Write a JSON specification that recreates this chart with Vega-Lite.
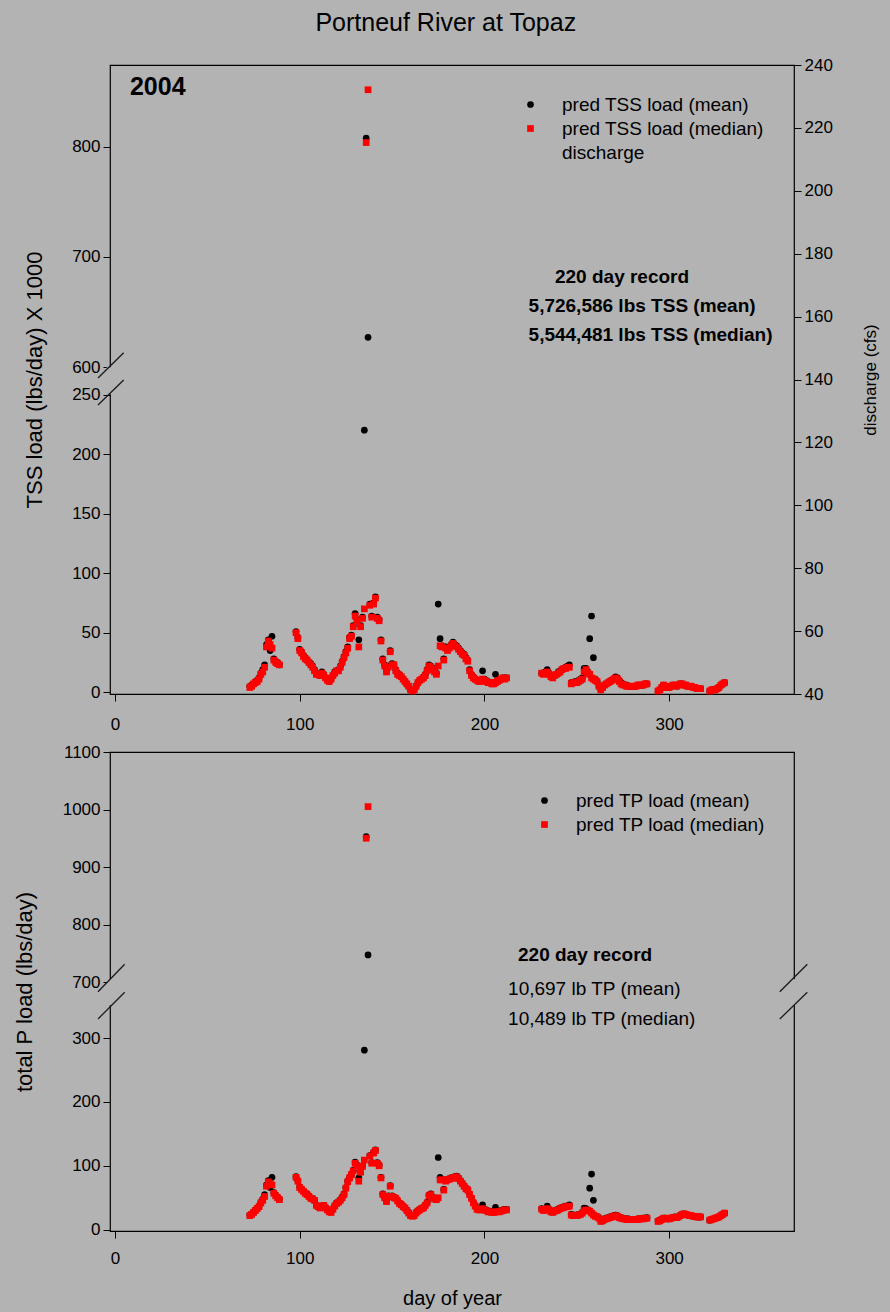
{
"$schema": "https://vega.github.io/schema/vega-lite/v6.json",
"background": "#b3b3b3",
"padding": {"left": 12, "top": 11, "right": 14, "bottom": 10},
"title": {"text": "Portneuf River at Topaz", "fontSize": 25, "font": "Liberation Sans", "fontWeight": "normal", "color": "black", "anchor": "middle", "offset": 19},
"config": {
  "font": "Liberation Sans",
  "view": {"fill": "#b3b3b3", "stroke": "black", "strokeWidth": 1.2},
  "axis": {"domain": false, "grid": false, "tickColor": "black", "tickSize": 7, "labelColor": "black", "labelFontSize": 17, "labelFont": "Liberation Sans", "titleFont": "Liberation Sans", "titleFontWeight": "normal", "titleColor": "black", "titleFontSize": 22, "labelPadding": 3, "labelFlush": false, "format": "d"},
  "axisX": {"labelPadding": 15},
  "legend": {"labelFontSize": 19, "labelFont": "Liberation Sans", "labelColor": "black", "labelOffset": 22, "rowPadding": 4, "symbolSize": 45, "symbolStrokeWidth": 0, "padding": 0, "labelLimit": 400}
},
"datasets": {"main": [
{"d":73,"tn":4,"tm":5,"pn":22,"pm":23},{"d":74,"tn":5,"tm":6,"pn":24,"pm":25},{"d":75,"tn":7,"tm":7,"pn":27,"pm":28},{"d":76,"tn":8,"tm":9,"pn":30,"pm":31},{"d":77,"tn":9,"tm":10,"pn":33,"pm":34},{"d":78,"tn":11,"tm":12,"pn":36,"pm":37},{"d":79,"tn":15,"tm":16,"pn":42,"pm":43},{"d":80,"tn":17,"tm":19,"pn":46,"pm":48},{"d":81,"tn":21,"tm":23,"pn":52,"pm":55},{"d":82,"tn":38,"tm":40,"pn":68,"pm":70},{"d":83,"tn":43,"tm":44,"pn":75,"pm":77},{"d":84,"tn":40,"tm":35,"pn":72,"pm":66},{"d":85,"tn":37,"tm":47,"pn":70,"pm":82},{"d":86,"tn":27,"tm":28,"pn":57,"pm":58},{"d":87,"tn":25,"tm":26,"pn":53,"pm":54},{"d":88,"tn":24,"tm":25,"pn":50,"pm":51},{"d":89,"tn":23,"tm":23,"pn":47,"pm":48},
{"d":98,"tn":50,"tm":51,"pn":82,"pm":83},{"d":99,"tn":45,"tm":46,"pn":76,"pm":77},{"d":100,"tn":35,"tm":36,"pn":66,"pm":67},{"d":101,"tn":33,"tm":34,"pn":63,"pm":64},{"d":102,"tn":30,"tm":31,"pn":60,"pm":61},{"d":103,"tn":28,"tm":29,"pn":57,"pm":58},{"d":104,"tn":27,"tm":27,"pn":55,"pm":56},{"d":105,"tn":25,"tm":25,"pn":52,"pm":53},{"d":106,"tn":23,"tm":24,"pn":49,"pm":50},{"d":107,"tn":21,"tm":22,"pn":48,"pm":49},{"d":108,"tn":18,"tm":19,"pn":46,"pm":46},{"d":109,"tn":15,"tm":16,"pn":38,"pm":39},{"d":110,"tn":15,"tm":15,"pn":36,"pm":37},{"d":111,"tn":14,"tm":14,"pn":34,"pm":35},{"d":112,"tn":16,"tm":17,"pn":36,"pm":37},{"d":113,"tn":14,"tm":15,"pn":38,"pm":38},{"d":114,"tn":12,"tm":12,"pn":34,"pm":35},{"d":115,"tn":10,"tm":11,"pn":31,"pm":32},{"d":116,"tn":9,"tm":9,"pn":28,"pm":29},{"d":117,"tn":11,"tm":11,"pn":27,"pm":28},{"d":118,"tn":14,"tm":14,"pn":32,"pm":33},{"d":119,"tn":16,"tm":17,"pn":37,"pm":38},{"d":120,"tn":18,"tm":18,"pn":41,"pm":42},{"d":121,"tn":18,"tm":19,"pn":43,"pm":44},{"d":122,"tn":21,"tm":22,"pn":46,"pm":47},{"d":123,"tn":25,"tm":26,"pn":50,"pm":51},{"d":124,"tn":29,"tm":30,"pn":55,"pm":56},{"d":125,"tn":33,"tm":34,"pn":65,"pm":66},{"d":126,"tn":37,"tm":38,"pn":75,"pm":76},{"d":127,"tn":45,"tm":46,"pn":81,"pm":82},{"d":128,"tn":47,"tm":48,"pn":86,"pm":87},{"d":129,"tn":55,"tm":56,"pn":92,"pm":93},{"d":130,"tn":64,"tm":66,"pn":104,"pm":106},{"d":131,"tn":60,"tm":61,"pn":100,"pm":101},{"d":132,"tn":38,"tm":44,"pn":76,"pm":81},{"d":133,"tn":55,"tm":56,"pn":90,"pm":91},{"d":134,"tn":62,"tm":63,"pn":99,"pm":100},{"d":135,"tn":70,"tm":220,"pn":109,"pm":281},{"d":136,"tn":804,"tm":808,"pn":950,"pm":953},{"d":137,"tn":852,"tm":627,"pn":1005,"pm":747},{"d":138,"tn":73,"tm":74,"pn":115,"pm":116},{"d":139,"tn":63,"tm":64,"pn":104,"pm":105},{"d":140,"tn":74,"tm":75,"pn":120,"pm":121},{"d":141,"tn":79,"tm":80,"pn":124,"pm":125},{"d":142,"tn":62,"tm":63,"pn":104,"pm":105},{"d":143,"tn":60,"tm":61,"pn":100,"pm":101},{"d":144,"tn":43,"tm":44,"pn":81,"pm":82},{"d":145,"tn":27,"tm":28,"pn":55,"pm":56},{"d":146,"tn":22,"tm":23,"pn":50,"pm":51},{"d":147,"tn":17,"tm":18,"pn":44,"pm":45},{"d":148,"tn":21,"tm":22,"pn":52,"pm":53},{"d":149,"tn":34,"tm":35,"pn":68,"pm":69},{"d":150,"tn":23,"tm":24,"pn":52,"pm":53},{"d":151,"tn":23,"tm":23,"pn":50,"pm":51},{"d":152,"tn":18,"tm":19,"pn":49,"pm":50},{"d":153,"tn":15,"tm":16,"pn":45,"pm":46},{"d":154,"tn":14,"tm":15,"pn":41,"pm":42},{"d":155,"tn":13,"tm":13,"pn":39,"pm":40},{"d":156,"tn":11,"tm":11,"pn":36,"pm":37},{"d":157,"tn":9,"tm":9,"pn":34,"pm":34},{"d":158,"tn":7,"tm":7,"pn":30,"pm":31},{"d":159,"tn":5,"tm":5,"pn":26,"pm":27},{"d":160,"tn":2,"tm":2,"pn":22,"pm":23},{"d":161,"tn":1,"tm":1,"pn":21,"pm":22},{"d":162,"tn":2,"tm":2,"pn":22,"pm":23},{"d":163,"tn":5,"tm":5,"pn":26,"pm":27},{"d":164,"tn":8,"tm":8,"pn":29,"pm":30},{"d":165,"tn":10,"tm":10,"pn":31,"pm":32},{"d":166,"tn":11,"tm":11,"pn":33,"pm":34},{"d":167,"tn":12,"tm":13,"pn":34,"pm":35},{"d":168,"tn":14,"tm":15,"pn":38,"pm":39},{"d":169,"tn":18,"tm":19,"pn":42,"pm":43},{"d":170,"tn":22,"tm":23,"pn":53,"pm":54},{"d":171,"tn":21,"tm":22,"pn":55,"pm":56},{"d":172,"tn":19,"tm":20,"pn":50,"pm":51},{"d":173,"tn":17,"tm":18,"pn":48,"pm":49},{"d":174,"tn":15,"tm":16,"pn":47,"pm":48},{"d":175,"tn":22,"tm":74,"pn":50,"pm":113},{"d":176,"tn":39,"tm":45,"pn":78,"pm":82},{"d":177,"tn":38,"tm":39,"pn":78,"pm":79},{"d":178,"tn":27,"tm":28,"pn":62,"pm":63},{"d":179,"tn":37,"tm":38,"pn":76,"pm":77},{"d":180,"tn":35,"tm":36,"pn":78,"pm":79},{"d":181,"tn":37,"tm":38,"pn":79,"pm":80},{"d":182,"tn":39,"tm":40,"pn":80,"pm":81},{"d":183,"tn":41,"tm":42,"pn":81,"pm":82},{"d":184,"tn":39,"tm":40,"pn":82,"pm":83},{"d":185,"tn":38,"tm":39,"pn":83,"pm":84},{"d":186,"tn":36,"tm":37,"pn":80,"pm":81},{"d":187,"tn":34,"tm":35,"pn":76,"pm":77},{"d":188,"tn":32,"tm":33,"pn":72,"pm":73},{"d":189,"tn":31,"tm":32,"pn":68,"pm":69},{"d":190,"tn":28,"tm":29,"pn":64,"pm":65},{"d":191,"tn":26,"tm":27,"pn":62,"pm":63},{"d":192,"tn":18,"tm":19,"pn":55,"pm":56},{"d":193,"tn":14,"tm":15,"pn":49,"pm":50},{"d":194,"tn":12,"tm":13,"pn":42,"pm":43},{"d":195,"tn":11,"tm":11,"pn":37,"pm":38},{"d":196,"tn":10,"tm":10,"pn":32,"pm":33},{"d":197,"tn":9,"tm":10,"pn":31,"pm":32},{"d":198,"tn":9,"tm":10,"pn":31,"pm":32},{"d":199,"tn":11,"tm":18,"pn":33,"pm":39},{"d":200,"tn":10,"tm":11,"pn":31,"pm":32},{"d":201,"tn":9,"tm":10,"pn":30,"pm":31},{"d":202,"tn":8,"tm":9,"pn":28,"pm":29},{"d":203,"tn":8,"tm":8,"pn":28,"pm":29},{"d":204,"tn":7,"tm":8,"pn":27,"pm":28},{"d":205,"tn":7,"tm":8,"pn":27,"pm":28},{"d":206,"tn":8,"tm":15,"pn":28,"pm":35},{"d":207,"tn":9,"tm":9,"pn":28,"pm":29},{"d":208,"tn":10,"tm":10,"pn":28,"pm":29},{"d":209,"tn":11,"tm":11,"pn":29,"pm":30},{"d":210,"tn":12,"tm":12,"pn":30,"pm":31},{"d":211,"tn":11,"tm":12,"pn":31,"pm":32},{"d":212,"tn":12,"tm":12,"pn":31,"pm":32},
{"d":231,"tn":16,"tm":16,"pn":32,"pm":33},{"d":232,"tn":15,"tm":16,"pn":30,"pm":31},{"d":233,"tn":16,"tm":17,"pn":31,"pm":32},{"d":234,"tn":17,"tm":19,"pn":33,"pm":37},{"d":235,"tn":15,"tm":16,"pn":31,"pm":32},{"d":236,"tn":13,"tm":14,"pn":28,"pm":29},{"d":237,"tn":12,"tm":13,"pn":27,"pm":28},{"d":238,"tn":14,"tm":14,"pn":29,"pm":30},{"d":239,"tn":15,"tm":15,"pn":30,"pm":31},{"d":240,"tn":16,"tm":17,"pn":31,"pm":32},{"d":241,"tn":17,"tm":18,"pn":33,"pm":34},{"d":242,"tn":19,"tm":19,"pn":34,"pm":35},{"d":243,"tn":20,"tm":20,"pn":35,"pm":36},{"d":244,"tn":20,"tm":21,"pn":36,"pm":37},{"d":245,"tn":21,"tm":22,"pn":36,"pm":37},{"d":246,"tn":21,"tm":23,"pn":37,"pm":39},{"d":247,"tn":7,"tm":8,"pn":23,"pm":24},{"d":248,"tn":8,"tm":8,"pn":22,"pm":23},{"d":249,"tn":8,"tm":9,"pn":22,"pm":23},{"d":250,"tn":8,"tm":9,"pn":22,"pm":23},{"d":251,"tn":9,"tm":10,"pn":23,"pm":24},{"d":252,"tn":10,"tm":11,"pn":24,"pm":25},{"d":253,"tn":11,"tm":12,"pn":26,"pm":27},{"d":254,"tn":17,"tm":20,"pn":30,"pm":34},{"d":255,"tn":19,"tm":20,"pn":31,"pm":33},{"d":256,"tn":16,"tm":17,"pn":30,"pm":31},{"d":257,"tn":15,"tm":45,"pn":29,"pm":65},{"d":258,"tn":12,"tm":64,"pn":26,"pm":87},{"d":259,"tn":11,"tm":29,"pn":23,"pm":46},{"d":260,"tn":10,"tm":11,"pn":21,"pm":22},{"d":261,"tn":9,"tm":9,"pn":20,"pm":21},{"d":262,"tn":5,"tm":5,"pn":18,"pm":19},{"d":263,"tn":2,"tm":2,"pn":13,"pm":14},{"d":264,"tn":4,"tm":4,"pn":14,"pm":15},{"d":265,"tn":6,"tm":6,"pn":16,"pm":17},{"d":266,"tn":7,"tm":7,"pn":17,"pm":18},{"d":267,"tn":8,"tm":8,"pn":18,"pm":19},{"d":268,"tn":9,"tm":9,"pn":19,"pm":20},{"d":269,"tn":10,"tm":10,"pn":20,"pm":21},{"d":270,"tn":11,"tm":11,"pn":21,"pm":22},{"d":271,"tn":12,"tm":13,"pn":22,"pm":23},{"d":272,"tn":11,"tm":12,"pn":21,"pm":22},{"d":273,"tn":9,"tm":10,"pn":19,"pm":20},{"d":274,"tn":7,"tm":8,"pn":18,"pm":19},{"d":275,"tn":6,"tm":7,"pn":17,"pm":18},{"d":276,"tn":6,"tm":6,"pn":17,"pm":17},{"d":277,"tn":5,"tm":6,"pn":16,"pm":17},{"d":278,"tn":5,"tm":5,"pn":16,"pm":17},{"d":279,"tn":5,"tm":5,"pn":16,"pm":16},{"d":280,"tn":5,"tm":5,"pn":16,"pm":16},{"d":281,"tn":5,"tm":5,"pn":16,"pm":16},{"d":282,"tn":5,"tm":5,"pn":16,"pm":16},{"d":283,"tn":6,"tm":6,"pn":16,"pm":17},{"d":284,"tn":6,"tm":6,"pn":17,"pm":17},{"d":285,"tn":6,"tm":6,"pn":17,"pm":17},{"d":286,"tn":6,"tm":6,"pn":17,"pm":18},{"d":287,"tn":7,"tm":7,"pn":18,"pm":18},{"d":288,"tn":7,"tm":7,"pn":18,"pm":19},
{"d":294,"tn":1,"tm":1,"pn":13,"pm":14},{"d":295,"tn":2,"tm":2,"pn":14,"pm":15},{"d":296,"tn":4,"tm":4,"pn":16,"pm":16},{"d":297,"tn":6,"tm":6,"pn":18,"pm":18},{"d":298,"tn":5,"tm":5,"pn":18,"pm":18},{"d":299,"tn":4,"tm":4,"pn":17,"pm":17},{"d":300,"tn":4,"tm":4,"pn":17,"pm":17},{"d":301,"tn":5,"tm":5,"pn":18,"pm":18},{"d":302,"tn":6,"tm":6,"pn":19,"pm":19},{"d":303,"tn":6,"tm":6,"pn":19,"pm":20},{"d":304,"tn":5,"tm":5,"pn":19,"pm":19},{"d":305,"tn":6,"tm":6,"pn":20,"pm":20},{"d":306,"tn":7,"tm":7,"pn":22,"pm":22},{"d":307,"tn":7,"tm":7,"pn":24,"pm":24},{"d":308,"tn":6,"tm":6,"pn":25,"pm":25},{"d":309,"tn":6,"tm":6,"pn":24,"pm":24},{"d":310,"tn":5,"tm":5,"pn":23,"pm":23},{"d":311,"tn":5,"tm":5,"pn":22,"pm":22},{"d":312,"tn":5,"tm":5,"pn":22,"pm":22},{"d":313,"tn":4,"tm":4,"pn":21,"pm":21},{"d":314,"tn":4,"tm":4,"pn":21,"pm":21},{"d":315,"tn":3,"tm":3,"pn":20,"pm":20},{"d":316,"tn":3,"tm":3,"pn":20,"pm":20},{"d":317,"tn":3,"tm":3,"pn":20,"pm":20},
{"d":322,"tn":1,"tm":1,"pn":15,"pm":15},{"d":323,"tn":2,"tm":2,"pn":16,"pm":16},{"d":324,"tn":2,"tm":2,"pn":17,"pm":17},{"d":325,"tn":2,"tm":2,"pn":18,"pm":18},{"d":326,"tn":3,"tm":3,"pn":19,"pm":19},{"d":327,"tn":4,"tm":4,"pn":20,"pm":20},{"d":328,"tn":6,"tm":6,"pn":22,"pm":22},{"d":329,"tn":7,"tm":7,"pn":24,"pm":24},{"d":330,"tn":8,"tm":8,"pn":26,"pm":26}
]},
"spacing": 9,
"vconcat": [
{
  "width": 684, "height": 629,
  "layer": [
    {
      "encoding": {
        "x": {"field": "d", "type": "quantitative", "scale": {"domain": [-2.7, 367.6], "nice": false, "zero": false}, "axis": {"values": [0, 100, 200, 300], "title": null}},
        "y": {"field": "v", "type": "quantitative", "scale": {"domain": [-1.5, 250, 600, 874.5], "range": [629, 329.5, 302, 0], "nice": false, "zero": false}, "axis": {"values": [0, 50, 100, 150, 200, 250, 600, 700, 800], "title": "TSS load (lbs/day) X 1000", "titlePadding": 25}}
      },
      "layer": [
        {"data": {"values": [{"d": -4.5, "d2": -1, "v": 252, "v2": 598}]}, "mark": {"type": "rect", "fill": "#b3b3b3"}, "encoding": {"x2": {"field": "d2"}, "y2": {"field": "v2"}}},
        {"data": {"values": [{"d": -9.2, "d2": 4.7, "v": 460, "v2": 613}, {"d": -9.2, "d2": 4.7, "v": 241.2, "v2": 434.5}]}, "mark": {"type": "rule", "color": "#1a1a1a", "strokeWidth": 1.3}, "encoding": {"x2": {"field": "d2"}, "y2": {"field": "v2"}}},
        {"data": {"name": "main"}, "transform": [{"fold": ["tm", "tn"], "as": ["s", "v"]}],
         "mark": {"type": "point", "filled": true, "opacity": 1, "size": 45},
         "encoding": {
           "color": {"field": "s", "type": "nominal", "scale": {"domain": ["tm", "tn", "q"], "range": ["#000000", "#ff0000", "rgba(0,0,0,0)"]}, "legend": {"title": null, "orient": "top-right", "offset": 30, "labelExpr": "datum.value == 'tm' ? 'pred TSS load (mean)' : datum.value == 'tn' ? 'pred TSS load (median)' : 'discharge'"}},
           "shape": {"field": "s", "type": "nominal", "scale": {"domain": ["tm", "tn", "q"], "range": ["circle", "square", "circle"]}, "legend": {"title": null, "orient": "top-right", "offset": 30, "labelExpr": "datum.value == 'tm' ? 'pred TSS load (mean)' : datum.value == 'tn' ? 'pred TSS load (median)' : 'discharge'"}},
           "order": {"field": "s"}
         }},
        {"data": {"values": [{"d": 8.1, "v": 854.5, "t": "2004"}]}, "mark": {"type": "text", "align": "left", "baseline": "middle", "fontSize": 25, "fontWeight": "bold", "color": "black"}, "encoding": {"text": {"field": "t"}}},
        {"data": {"values": [{"d": 238.2, "v": 681.8, "t": "220 day record"}, {"d": 223.9, "v": 655.4, "t": "5,726,586 lbs TSS (mean)"}, {"d": 223.9, "v": 629.1, "t": "5,544,481 lbs TSS (median)"}]}, "mark": {"type": "text", "align": "left", "baseline": "middle", "fontSize": 19, "fontWeight": "bold", "color": "black"}, "encoding": {"text": {"field": "t"}}}
      ]
    },
    {
      "mark": {"type": "rule", "strokeOpacity": 0},
      "encoding": {"y": {"datum": 40, "type": "quantitative", "scale": {"domain": [40, 240], "nice": false, "zero": false}, "axis": {"orient": "right", "values": [40, 60, 80, 100, 120, 140, 160, 180, 200, 220, 240], "title": "discharge (cfs)", "titleFontSize": 17, "titleAngle": 270, "titleBaseline": "top", "titlePadding": 30}}}
    }
  ],
  "resolve": {"scale": {"y": "independent"}, "axis": {"y": "independent"}}
},
{
  "width": 684, "height": 479,
  "encoding": {
    "x": {"field": "d", "type": "quantitative", "scale": {"domain": [-2.7, 367.6], "nice": false, "zero": false}, "axis": {"values": [0, 100, 200, 300], "title": "day of year", "titleFontSize": 20, "titlePadding": 22, "labelPadding": 12}},
    "y": {"field": "v", "type": "quantitative", "scale": {"domain": [-2, 300, 700, 1100], "range": [479, 286, 230, 0], "nice": false, "zero": false}, "axis": {"values": [0, 100, 200, 300, 700, 800, 900, 1000, 1100], "title": "total P load (lbs/day)", "titlePadding": 26}}
  },
  "layer": [
    {"data": {"values": [{"d": -4.5, "d2": -1, "v": 535, "v2": 705}, {"d": 366, "d2": 369.5, "v": 535, "v2": 705}]}, "mark": {"type": "rect", "fill": "#b3b3b3"}, "encoding": {"x2": {"field": "d2"}, "y2": {"field": "v2"}}},
    {"data": {"values": [{"d": -9.2, "d2": 5.25, "v": 630.7, "v2": 730.8}, {"d": -9.2, "d2": 5.25, "v": 435.7, "v2": 626.4}, {"d": 359.9, "d2": 374.8, "v": 630.7, "v2": 730.8}, {"d": 359.9, "d2": 374.8, "v": 435.7, "v2": 626.4}]}, "mark": {"type": "rule", "color": "#1a1a1a", "strokeWidth": 1.3}, "encoding": {"x2": {"field": "d2"}, "y2": {"field": "v2"}}},
    {"data": {"name": "main"}, "transform": [{"fold": ["pm", "pn"], "as": ["s", "v"]}],
     "mark": {"type": "point", "filled": true, "opacity": 1, "size": 45},
     "encoding": {
       "color": {"field": "s", "type": "nominal", "scale": {"domain": ["pm", "pn"], "range": ["#000000", "#ff0000"]}, "legend": {"title": null, "orient": "none", "legendX": 425, "legendY": 39, "labelExpr": "datum.value == 'pm' ? 'pred TP load (mean)' : 'pred TP load (median)'"}},
       "shape": {"field": "s", "type": "nominal", "scale": {"domain": ["pm", "pn"], "range": ["circle", "square"]}, "legend": {"title": null, "orient": "none", "legendX": 425, "legendY": 39, "labelExpr": "datum.value == 'pm' ? 'pred TP load (mean)' : 'pred TP load (median)'"}},
       "order": {"field": "s"}
     }},
    {"data": {"values": [{"d": 218.2, "v": 747, "t": "220 day record"}]}, "mark": {"type": "text", "align": "left", "baseline": "middle", "fontSize": 19, "fontWeight": "bold", "color": "black"}, "encoding": {"text": {"field": "t"}}},
    {"data": {"values": [{"d": 212.8, "v": 650, "t": "10,697 lb TP (mean)"}, {"d": 212.8, "v": 435.7, "t": "10,489 lb TP (median)"}]}, "mark": {"type": "text", "align": "left", "baseline": "middle", "fontSize": 19, "color": "black"}, "encoding": {"text": {"field": "t"}}}
  ],
  "resolve": {"scale": {"color": "independent", "shape": "independent"}}
}
],
"resolve": {"scale": {"color": "independent", "shape": "independent"}, "legend": {"color": "independent", "shape": "independent"}}
}
